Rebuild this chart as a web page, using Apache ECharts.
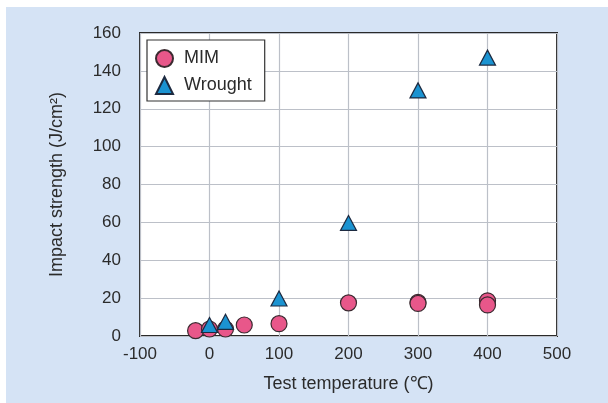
<!DOCTYPE html>
<html>
<head>
<meta charset="utf-8">
<script src="https://cdn.jsdelivr.net/npm/echarts@6/dist/echarts.min.js"></script>
<style>
  html, body { margin: 0; padding: 0; background: #ffffff; }
  #chart { width: 608px; height: 403px; }
</style>
</head>
<body>
<div id="chart"></div>
<script>
  // test temperature (°C) and impact strength (J/cm2)
  const mimTemps = [-20, 0, 23, 50, 100, 200, 300, 300, 400, 400];
  const mimValues = [2.8, 3.7, 3.7, 5.8, 6.5, 17.5, 17.8, 17.2, 18.6, 16.4];
  const wroughtTemps = [0, 23, 100, 200, 300, 400];
  const wroughtValues = [5.8, 7.5, 19.8, 59.7, 129.7, 147];

  const xTicks = [-100, 0, 100, 200, 300, 400, 500];
  const yTicks = [0, 20, 40, 60, 80, 100, 120, 140, 160];

  const chart = echarts.init(document.getElementById("chart"));

  const labelFont = { fontFamily: "Liberation Sans", fontSize: 17, color: "#2b2b2b" };

  const option = {
    animation: false,
    graphic: [
      {
        type: "rect",
        shape: { x: 6, y: 7, width: 602, height: 396 },
        style: { fill: "#d5e3f5" },
        z: -10,
      },
    ],
    grid: {
      left: 140,
      right: 51,
      top: 33,
      bottom: 67,
      show: true,
      backgroundColor: "#ffffff",
      borderColor: "#2a2a2a",
      borderWidth: 2,
    },
    legend: {
      left: 147,
      top: 40,
      orient: "vertical",
      backgroundColor: "#ffffff",
      borderColor: "#333333",
      borderWidth: 1.2,
      borderRadius: 0,
      padding: [9, 13, 6, 8],
      itemWidth: 17,
      itemHeight: 17,
      itemGap: 8,
      textStyle: { ...labelFont, fontSize: 18, padding: [0, 0, 0, 6] },
      data: [
        { name: "MIM", icon: "circle" },
        { name: "Wrought", icon: "triangle" },
      ],
    },
    xAxis: {
      type: "value",
      min: -100,
      max: 500,
      interval: 100,
      name: "Test temperature (\u2103)",
      nameLocation: "middle",
      nameGap: 39,
      nameTextStyle: { ...labelFont, fontSize: 18 },
      axisLine: { show: false },
      axisTick: { show: false },
      axisLabel: {
        ...labelFont,
        margin: 10,
        formatter: (v) => (xTicks.includes(v) ? String(v) : ""),
      },
      splitLine: { show: true, lineStyle: { color: "#bcc0c8", width: 1.2 } },
    },
    yAxis: {
      type: "value",
      min: 0,
      max: 160,
      interval: 20,
      name: "Impact strength (J/cm\u00b2)",
      nameLocation: "middle",
      nameGap: 74,
      nameTextStyle: { ...labelFont, fontSize: 18 },
      axisLine: { show: false },
      axisTick: { show: false },
      axisLabel: {
        ...labelFont,
        margin: 19,
        formatter: (v) => (yTicks.includes(v) ? String(v) : ""),
      },
      splitLine: { show: true, lineStyle: { color: "#bcc0c8", width: 1.2 } },
    },
    series: [
      {
        name: "MIM",
        type: "scatter",
        symbol: "circle",
        symbolSize: 16,
        itemStyle: { color: "#e8578a", borderColor: "#3b2a30", borderWidth: 1.2, opacity: 1 },
        data: mimTemps.map((t, i) => [t, mimValues[i]]),
        z: 3,
      },
      {
        name: "Wrought",
        type: "scatter",
        symbol: "triangle",
        symbolSize: [16, 15],
        itemStyle: { color: "#1b93d1", borderColor: "#1d2a40", borderWidth: 1.2, opacity: 1 },
        data: wroughtTemps.map((t, i) => [t, wroughtValues[i]]),
        z: 4,
      },
    ],
  };

  chart.setOption(option);

  window.addEventListener("resize", () => {
    chart.resize();
  });
</script>
</body>
</html>
